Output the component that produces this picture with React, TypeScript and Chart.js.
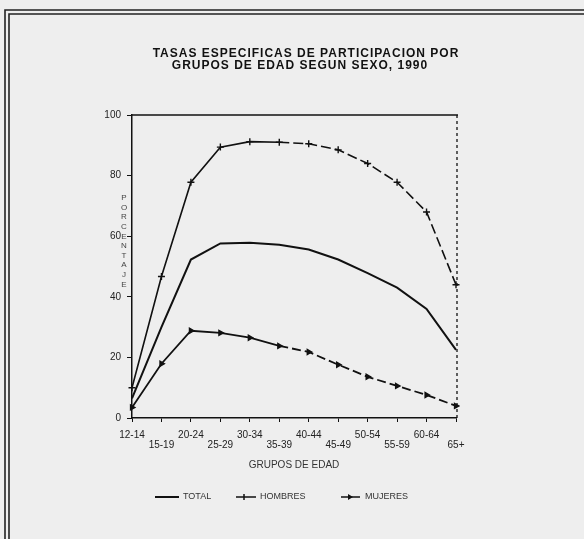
import React, { useEffect, useRef } from 'react';
import { Chart, registerables } from 'chart.js';

Chart.register(...registerables);

const categories = ['12-14', '15-19', '20-24', '25-29', '30-34', '35-39', '40-44', '45-49', '50-54', '55-59', '60-64', '65+'];
const totalValues = [6.5, 30, 52.3, 57.6, 57.8, 57.2, 55.6, 52.3, 47.8, 43, 36, 22.5];
const hombresValues = [10, 46.7, 77.8, 89.4, 91.2, 91, 90.5, 88.5, 84, 77.8, 68, 44];
const mujeresValues = [3.5, 17.9, 28.8, 28.1, 26.5, 23.8, 21.8, 17.6, 13.6, 10.6, 7.6, 4];
const yTickValues = [0, 20, 40, 60, 80, 100];
const titleLines = ['TASAS ESPECIFICAS DE PARTICIPACION POR', 'GRUPOS DE EDAD SEGUN SEXO, 1990'];
const xTitle = 'GRUPOS DE EDAD';
const yTitle = 'PORCENTAJE';
const legendLabels = ['TOTAL', 'HOMBRES', 'MUJERES'];

const INK = '#111111';
const FONT = "'Liberation Sans', Arial, sans-serif";

const decorPlugin = {
  id: 'decor',
  beforeDraw(chart: any) {
    const ctx = chart.ctx;
    ctx.save();
    ctx.fillStyle = '#eeeeee';
    ctx.fillRect(0, 0, chart.width, chart.height);
    ctx.strokeStyle = '#222';
    ctx.lineWidth = 1.6;
    ctx.beginPath();
    ctx.moveTo(5, chart.height);
    ctx.lineTo(5, 10);
    ctx.lineTo(chart.width, 10);
    ctx.moveTo(9, chart.height);
    ctx.lineTo(9, 14);
    ctx.lineTo(chart.width, 14);
    ctx.stroke();
    ctx.restore();
  },
  afterDraw(chart: any) {
    const ctx = chart.ctx;
    const xs = chart.scales.x;
    const ys = chart.scales.y;
    const area = chart.chartArea;
    ctx.save();
    const yTop = ys.getPixelForValue(100);
    const xRight = xs.getPixelForValue(categories.length - 1);
    ctx.strokeStyle = INK;
    ctx.lineWidth = 1.3;
    ctx.beginPath();
    ctx.moveTo(area.left, yTop);
    ctx.lineTo(xRight + 2, yTop);
    ctx.stroke();
    ctx.setLineDash([3, 3]);
    ctx.beginPath();
    ctx.moveTo(xRight + 1, yTop);
    ctx.lineTo(xRight + 1, area.bottom);
    ctx.stroke();
    ctx.setLineDash([]);

    // title
    ctx.fillStyle = INK;
    ctx.font = `bold 12px ${FONT}`;
    ctx.textAlign = 'center';
    ctx.textBaseline = 'middle';
    try { (ctx as any).letterSpacing = '1px'; } catch (e) {}
    ctx.fillText(titleLines[0], 306, 54);
    ctx.fillText(titleLines[1], 300, 66);
    try { (ctx as any).letterSpacing = '0px'; } catch (e) {}

    // stacked y title
    ctx.fillStyle = '#444';
    ctx.font = `8px ${FONT}`;
    yTitle.split('').forEach((ch, i) => {
      ctx.fillText(ch, 124, 198 + i * 9.6);
    });

    // legend
    const ly = 497;
    ctx.font = `9px ${FONT}`;
    ctx.textAlign = 'left';
    ctx.fillStyle = '#333';
    ctx.strokeStyle = INK;
    ctx.lineWidth = 2;
    ctx.beginPath();
    ctx.moveTo(155, ly);
    ctx.lineTo(179, ly);
    ctx.stroke();
    ctx.fillText(legendLabels[0], 183, ly);
    ctx.lineWidth = 1.5;
    ctx.beginPath();
    ctx.moveTo(236, ly);
    ctx.lineTo(256, ly);
    ctx.moveTo(244, ly - 3);
    ctx.lineTo(244, ly + 3);
    ctx.stroke();
    ctx.fillText(legendLabels[1], 260, ly);
    ctx.beginPath();
    ctx.moveTo(341, ly);
    ctx.lineTo(360, ly);
    ctx.stroke();
    ctx.beginPath();
    ctx.moveTo(348, ly - 3);
    ctx.lineTo(353, ly);
    ctx.lineTo(348, ly + 3);
    ctx.closePath();
    ctx.fillStyle = INK;
    ctx.fill();
    ctx.fillStyle = '#333';
    ctx.fillText(legendLabels[2], 365, ly);
    ctx.restore();
  },
};

export default function App() {
  const canvasRef = useRef<HTMLCanvasElement | null>(null);

  useEffect(() => {
    if (!canvasRef.current) return;
    const chart = new Chart(canvasRef.current, {
      type: 'line',
      data: {
        labels: categories,
        datasets: [
          {
            label: legendLabels[0],
            data: totalValues,
            borderColor: INK,
            borderWidth: 2,
            pointRadius: 0,
            tension: 0,
            fill: false,
          },
          {
            label: legendLabels[1],
            data: hombresValues,
            borderColor: INK,
            borderWidth: 1.6,
            pointStyle: 'cross',
            pointRadius: 3.5,
            pointBorderWidth: 1.4,
            pointBorderColor: INK,
            tension: 0,
            fill: false,
            segment: {
              borderDash: (c: any) => (c.p0DataIndex >= 5 ? [10, 4] : undefined),
            },
          },
          {
            label: legendLabels[2],
            data: mujeresValues,
            borderColor: INK,
            borderWidth: 1.8,
            pointStyle: 'triangle',
            rotation: 90,
            pointRadius: 2.5,
            pointBackgroundColor: INK,
            pointBorderColor: INK,
            tension: 0,
            fill: false,
            segment: {
              borderDash: (c: any) => (c.p0DataIndex >= 5 ? [9, 4] : undefined),
            },
          },
        ],
      },
      options: {
        responsive: false,
        animation: false,
        layout: { padding: { left: 92, right: 128, top: 115, bottom: 68 } },
        plugins: {
          legend: { display: false },
          title: { display: false },
          tooltip: { enabled: false },
        },
        scales: {
          x: {
            type: 'category',
            offset: false,
            grid: { drawOnChartArea: false, tickLength: 4, color: INK, offset: false },
            border: { color: INK, width: 1.5 },
            ticks: {
              autoSkip: false,
              maxRotation: 0,
              minRotation: 0,
              padding: 8,
              color: '#222',
              font: { family: FONT, size: 10, lineHeight: 1.0 },
              callback: function (this: any, value: any, index: number) {
                const lab = categories[index];
                return index % 2 === 0 ? [lab] : ['', lab];
              },
            },
            title: {
              display: true,
              text: xTitle,
              color: '#333',
              font: { family: FONT, size: 10, lineHeight: 1.2 },
              padding: 0,
            },
            afterFit: (s: any) => {
              s.height = 53;
            },
          },
          y: {
            min: 0,
            max: 100,
            grid: { drawOnChartArea: false, tickLength: 5, color: INK },
            border: { color: INK, width: 1.5 },
            ticks: {
              padding: 6,
              color: '#222',
              font: { family: FONT, size: 10 },
            },
            afterBuildTicks: (s: any) => {
              s.ticks = yTickValues.map((v) => ({ value: v }));
            },
            afterFit: (s: any) => {
              s.width = 40;
            },
          },
        },
      },
      plugins: [decorPlugin],
    });
    return () => chart.destroy();
  }, []);

  return (
    <div style={{ position: 'fixed', left: 0, top: 0, width: 584, height: 539, background: '#eeeeee' }}>
      <canvas ref={canvasRef} width={584} height={539} style={{ display: 'block', width: 584, height: 539 }} />
    </div>
  );
}
